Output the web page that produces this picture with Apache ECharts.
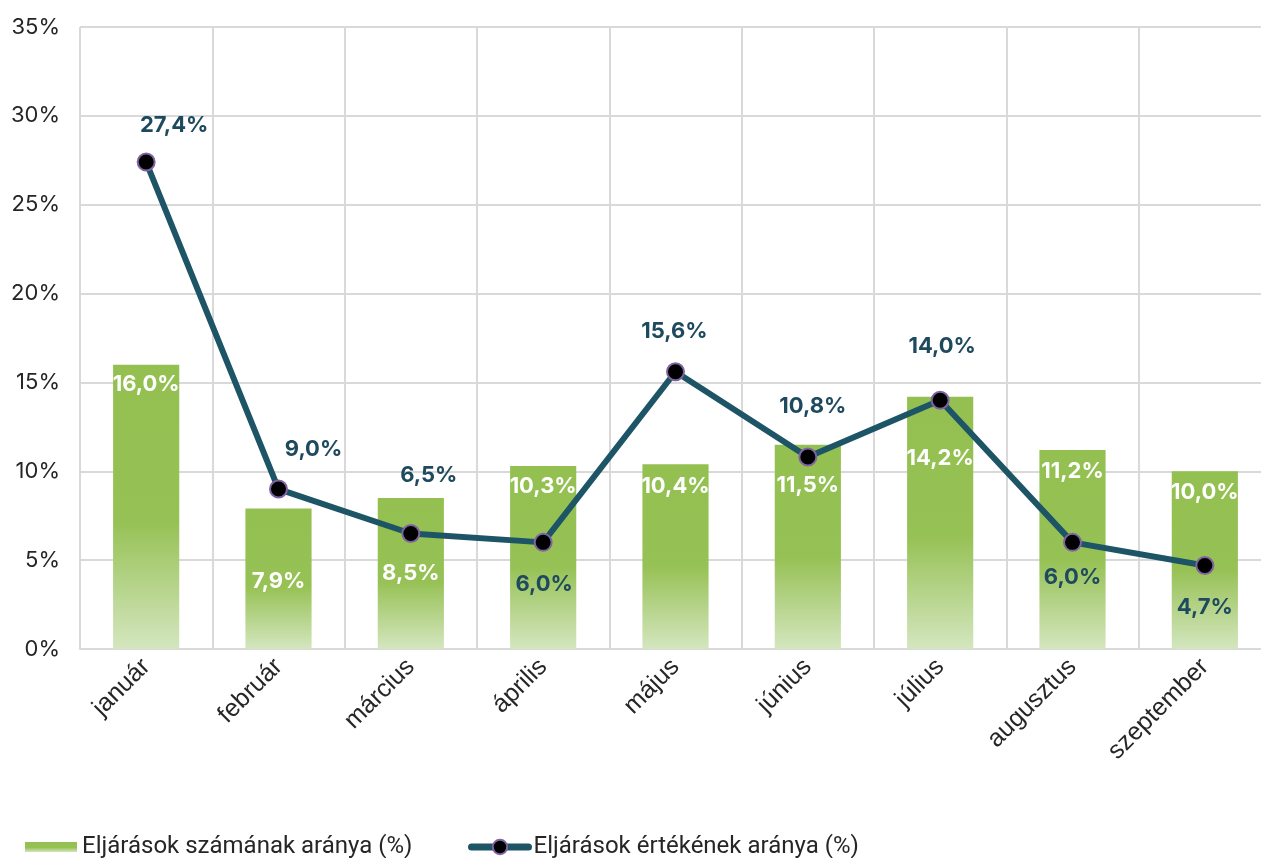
<!DOCTYPE html>
<html>
<head>
<meta charset="utf-8">
<script src="https://cdn.jsdelivr.net/npm/echarts@6/dist/echarts.min.js"></script>
<style>html,body{margin:0;padding:0;background:#fff}#c{width:1261px;height:858px}</style>
</head>
<body>
<div id="c"></div>
<script>
const categories = ['január','február','március','április','május','június','július','augusztus','szeptember'];
const countShare = [16.0, 7.9, 8.5, 10.3, 10.4, 11.5, 14.2, 11.2, 10.0];
const valueShare = [27.4, 9.0, 6.5, 6.0, 15.6, 10.8, 14.0, 6.0, 4.7];
const yTicks = [0, 5, 10, 15, 20, 25, 30, 35];
const seriesNames = ['Eljárások számának aránya (%)', 'Eljárások értékének aránya (%)'];

// label placement styling (not data)
const barLabelOffsets = [[0,9],[0,62],[0,64],[0,9],[0,11],[0,30],[0,51],[0,10],[0,10]];
const lineLabelOffsets = [[28,-37],[35,-40],[18,-58],[1,42],[-1,-40],[5,-51],[2,-54],[0,35],[0,42]];

const fmt = v => v.toFixed(1).replace('.', ',') + '%';
const valFont = 'Inter, "Noto Sans", sans-serif';
const txtFont = '"Liberation Sans", Arial, sans-serif';
const legFont = 'Roboto, "Liberation Sans", sans-serif';

const barGrad = new echarts.graphic.LinearGradient(0,0,0,1,[
  {offset:0,color:'#94c052'},{offset:0.55,color:'#96c154'},{offset:1,color:'#d4e6bf'}
]);

const chart = echarts.init(document.getElementById('c'), null, {renderer:'canvas'});
chart.setOption({
  animation:false,
  backgroundColor:'#fff',
  grid:{left:80, top:27, width:1191, height:622, outerBoundsMode:'none', containLabel:false},
  legend:[
    {
      left:20, top:829, itemGap:5, itemWidth:52, itemHeight:10, icon:'rect',
      textStyle:{fontFamily:legFont, fontSize:24, color:'#262626', lineHeight:26},
      data:[seriesNames[0]]
    },
    {
      left:463, top:829, itemWidth:57, itemHeight:18,
      textStyle:{fontFamily:legFont, fontSize:24, color:'#262626', lineHeight:26},
      data:[{name:seriesNames[1], lineStyle:{width:7, cap:'round'}}]
    }
  ],
  xAxis:{
    type:'category', data:categories,
    axisTick:{show:false},
    axisLine:{show:true, lineStyle:{color:'#d9d9d9', width:2}},
    splitLine:{show:true, lineStyle:{color:'#d9d9d9', width:2}},
    axisLabel:{rotate:45, fontFamily:txtFont, fontSize:25, color:'#262626', margin:14, interval:0}
  },
  yAxis:{
    type:'value', min:yTicks[0], max:yTicks[yTicks.length-1], interval:5,
    axisLine:{show:false}, axisTick:{show:false},
    splitLine:{lineStyle:{color:'#d9d9d9', width:2}},
    axisLabel:{formatter:'{value}%', fontFamily:valFont, fontSize:22, color:'#262626', margin:20}
  },
  series:[
    {
      name:seriesNames[0], type:'bar', barWidth:'50%',
      itemStyle:{color:barGrad},
      data:countShare.map((v,i)=>({value:v, label:{offset:barLabelOffsets[i]}})),
      label:{show:true, position:'insideTop', distance:0, formatter:p=>fmt(p.value),
        color:'#fff', fontFamily:valFont, fontWeight:'bold', fontSize:22},
      z:2
    },
    {
      name:seriesNames[1], type:'line',
      symbol:'circle', symbolSize:17,
      lineStyle:{color:'#1e5566', width:6},
      itemStyle:{color:'#000', borderColor:'#8064a2', borderWidth:2},
      data:valueShare.map((v,i)=>({value:v, label:{offset:lineLabelOffsets[i]}})),
      label:{show:true, position:'inside', formatter:p=>fmt(p.value), color:'#1e4a5e', fontFamily:valFont,
        fontWeight:'bold', fontSize:22},
      z:3
    }
  ]
});
</script>
</body>
</html>
